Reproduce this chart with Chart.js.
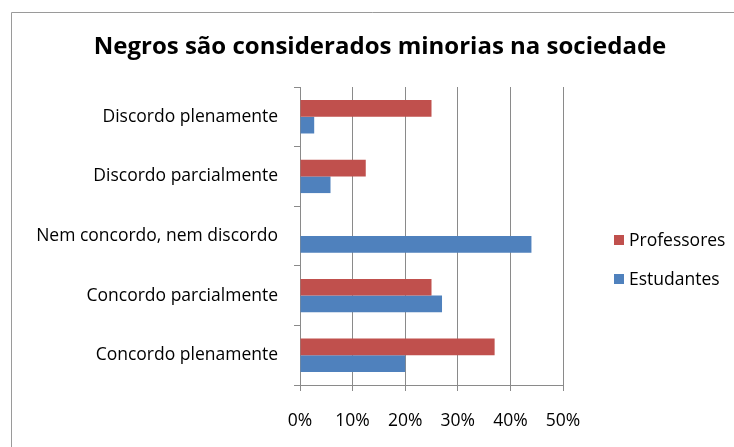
<!DOCTYPE html>
<html>
<head>
<meta charset="utf-8">
<title>Negros são considerados minorias na sociedade</title>
<script src="https://cdn.jsdelivr.net/npm/chart.js@4/dist/chart.umd.min.js"></script>
<style>
    html, body { margin: 0; padding: 0; background: #fff; overflow: hidden; }
    #wrap { position: relative; width: 734px; height: 447px; }
</style>
</head>
<body>
<div id="wrap"><canvas id="minoriasChart"></canvas></div>
<script>
// survey answers, top to bottom
const categories = [
    'Discordo plenamente',
    'Discordo parcialmente',
    'Nem concordo, nem discordo',
    'Concordo parcialmente',
    'Concordo plenamente'
];
// percentages per group
const professores = [25, 12.5, 0, 25, 37];
const estudantes = [2.7, 5.8, 44, 27, 20];
const xTicks = [0, 10, 20, 30, 40, 50];

const chartTitle = 'Negros são considerados minorias na sociedade';
const labelFont = '"Open Sans", sans-serif';
const labelSize = 17.5;
const lineGray = '#8a8a8a';

// frame, title and side legend drawn straight on the canvas
const decor = {
    id: 'decor',
    beforeDraw(chart) {
        const ctx = chart.ctx;
        ctx.save();
        ctx.strokeStyle = '#9a9a9a';
        ctx.lineWidth = 1;
        ctx.beginPath();
        ctx.moveTo(11.5, chart.height);
        ctx.lineTo(11.5, 12.5);
        ctx.lineTo(chart.width, 12.5);
        ctx.stroke();
        ctx.restore();
    },
    afterDraw(chart) {
        const ctx = chart.ctx;
        ctx.save();
        ctx.fillStyle = '#000';
        ctx.font = '700 24px ' + labelFont;
        ctx.textAlign = 'center';
        ctx.textBaseline = 'alphabetic';
        ctx.fillText(chartTitle, 380, 54);

        ctx.font = labelSize + 'px ' + labelFont;
        ctx.textAlign = 'left';
        ctx.textBaseline = 'middle';
        chart.data.datasets.forEach((ds, i) => {
            const y = 240 + i * 39;
            ctx.fillStyle = ds.backgroundColor;
            ctx.fillRect(614, y - 5, 10, 10);
            ctx.fillStyle = '#000';
            ctx.fillText(ds.label, 629, y + 1);
        });
        ctx.restore();
    }
};

function createChart() {
    const ctx = document.getElementById('minoriasChart');

    new Chart(ctx, {
        type: 'bar',
        data: {
            labels: categories,
            datasets: [
                {
                    label: 'Professores',
                    data: professores,
                    backgroundColor: '#c0504d'
                },
                {
                    label: 'Estudantes',
                    data: estudantes,
                    backgroundColor: '#4f81bd'
                }
            ]
        },
        options: {
            indexAxis: 'y',
            responsive: true,
            maintainAspectRatio: false,
            animation: false,
            categoryPercentage: 0.56,
            barPercentage: 1.0,
            layout: {
                padding: { left: 12, right: 171, top: 87, bottom: 12 }
            },
            scales: {
                x: {
                    min: 0,
                    max: 50,
                    afterBuildTicks(scale) {
                        scale.ticks = xTicks.map(v => ({ value: v }));
                    },
                    afterFit(scale) {
                        scale.height = 50;
                    },
                    ticks: {
                        callback: v => v + '%',
                        color: '#000',
                        padding: 20,
                        font: { family: labelFont, size: labelSize }
                    },
                    grid: {
                        color: lineGray,
                        tickLength: 6
                    },
                    border: { color: lineGray }
                },
                y: {
                    afterFit(scale) {
                        scale.width = 288;
                    },
                    ticks: {
                        color: '#000',
                        padding: 16,
                        font: { family: labelFont, size: labelSize }
                    },
                    grid: {
                        offset: true,
                        drawOnChartArea: false,
                        color: lineGray,
                        tickLength: 6
                    },
                    border: { color: lineGray }
                }
            },
            plugins: {
                legend: { display: false },
                title: { display: false },
                tooltip: { enabled: false }
            }
        },
        plugins: [decor]
    });
}

document.addEventListener('DOMContentLoaded', createChart);
</script>
</body>
</html>
